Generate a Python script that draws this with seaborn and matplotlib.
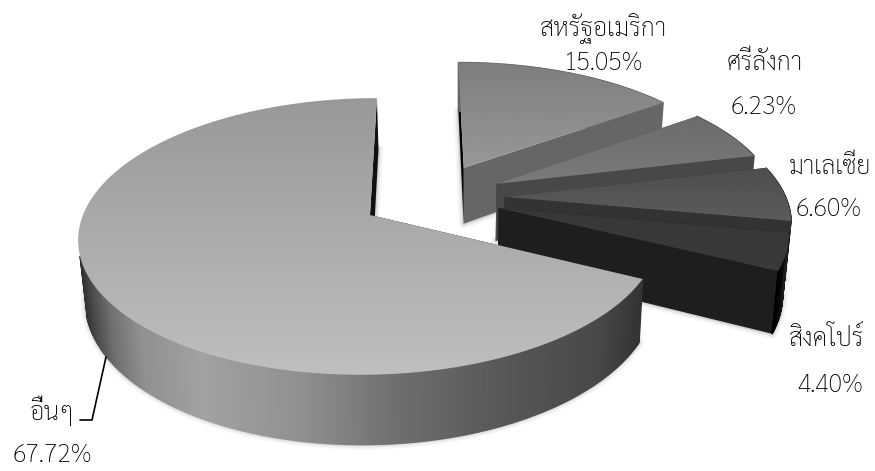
import matplotlib
matplotlib.use("Agg")
import matplotlib.pyplot as plt
from matplotlib.patches import Polygon
from matplotlib.collections import PolyCollection
import numpy as np
import seaborn as sns

# ข้อมูลจากภาพ
countries = ["สหรัฐอเมริกา", "ศรีลังกา", "มาเลเซีย", "สิงคโปร์", "อื่นๆ"]
shares = [15.05, 6.23, 6.60, 4.40, 67.72]
share_labels = ["15.05%", "6.23%", "6.60%", "4.40%", "67.72%"]

# ตำแหน่งป้าย (px)
name_pos = [(603, 29), (765, 64), (830, 167), (827, 339), (52, 411)]
value_pos = [(604, 63), (764, 108), (829, 210), (830, 385), (52, 455)]

# explode ของแต่ละชิ้นบนระนาบ
offsets = [(0.335, 0.369), (0.45, 0.239), (0.475, 0.137), (0.45, 0.052), (0.0, 0.0)]
top_shades = [(0x7e, 0x98), (0x6c, 0x7a), (0x4e, 0x5c), (0x38, 0x3a), (0x98, 0xbe)]
wall_shades = [0x66, 0x48, 0x33, 0x1e, 0x10]

sns.set_theme(style="white")
plt.rcParams["font.family"] = ["Sarabun", "Loma", "Noto Sans", "DejaVu Sans"]

CX, CY = 370.0, 215.0


def project(x, y, drop=False):
    w = 1 + 0.155 * y
    px = CX + (287 * x + 8 * y) / w
    py = CY - 135 * y / w
    if drop:
        px = px + (460 - px) * 0.019
        py = py + 59 / w
    return px, py


def side_shade(px):
    return np.interp(px, [77, 90, 110, 140, 200, 300, 390, 500, 600, 640],
                     [0x28, 0x48, 0x70, 0x90, 0xa2, 0x90, 0x70, 0x58, 0x48, 0x34])


fig = plt.figure(figsize=(8.75, 4.71), dpi=100)
ax = fig.add_axes([0, 0, 1, 1])

wedges, _ = ax.pie(shares, startangle=90, counterclock=False)
angles = [(w.theta1, w.theta2) for w in wedges]
for w in wedges:
    w.remove()

ax.axis("off")

for i, (t1, t2) in enumerate(angles):
    ox, oy = offsets[i]
    th = np.radians(np.linspace(t1, t2, max(8, int(t2 - t1) * 2)))
    xs = ox + np.cos(th)
    ys = oy + np.sin(th)
    rim_top = np.column_stack(project(xs, ys))
    rim_low = np.column_stack(project(xs, ys, drop=True))
    apex_top = np.array(project(ox, oy))
    apex_low = np.array(project(ox, oy, drop=True))
    is_big = i == len(shares) - 1

    # เงาจาง ๆ รอบชิ้น
    outline = np.vstack([rim_low, apex_low, rim_low[:1]])
    for lw, alpha in [(7, 0.05), (4, 0.08), (2, 0.12)]:
        ax.plot(outline[:, 0], outline[:, 1], color="0.25", lw=lw, alpha=alpha, zorder=1 + i * 5)

    # ผนังตัด
    for k in (0, -1):
        shade = 0x04 if (i == 0 and k == -1) else wall_shades[i]
        ax.add_patch(Polygon([apex_top, rim_top[k], rim_low[k], apex_low], closed=True,
                             fc=str(shade / 255), ec="none", zorder=2 + i * 5))

    # ด้านโค้ง เฉพาะส่วนที่หันหน้าเข้าหาผู้ดู
    strips = []
    colors = []
    for a in range(len(rim_top) - 1):
        if is_big and np.sin(th[a]) > -0.3 and np.sin(th[a + 1]) > -0.3:
            continue
        strips.append([rim_top[a], rim_top[a + 1], rim_low[a + 1], rim_low[a]])
        if is_big:
            g = side_shade(rim_top[a, 0]) / 255
        elif i == 3:
            g = np.interp(a, [0, len(rim_top) - 2], [0.0, 0.12])
        else:
            g = wall_shades[i] / 255
        colors.append((g, g, g))
    ax.add_collection(PolyCollection(strips, facecolors=colors, edgecolors=colors, linewidths=1.0,
                                     zorder=3 + i * 5))

    # ผิวบนแบบไล่เฉด
    top_poly = np.vstack([apex_top, rim_top])
    patch = Polygon(top_poly, closed=True, fc="none", ec="none", zorder=4 + i * 5)
    ax.add_patch(patch)
    y0, y1 = top_poly[:, 1].min(), top_poly[:, 1].max()
    x0, x1 = top_poly[:, 0].min(), top_poly[:, 0].max()
    grad = np.linspace(top_shades[i][0], top_shades[i][1], 64).reshape(-1, 1)
    im = ax.imshow(grad, cmap="gray", vmin=0, vmax=255, extent=(x0, x1, y1, y0), aspect="auto",
                   interpolation="bilinear", zorder=4 + i * 5)
    im.set_clip_path(patch)

ax.set_xlim(0, 875)
ax.set_ylim(471, 0)

# เส้นนำป้าย อื่นๆ
ax.plot([106, 92, 80], [357, 420, 420], color="black", lw=1.2, zorder=60)

for name, value, npos, vpos in zip(countries, share_labels, name_pos, value_pos):
    ax.text(npos[0], npos[1], name, ha="center", va="center", fontsize=18, fontweight="light",
            color="black", zorder=70)
    ax.text(vpos[0], vpos[1], value, ha="center", va="center", fontsize=18, fontweight="light",
            color="black", zorder=70)

fig.savefig("out.png", dpi=100)
